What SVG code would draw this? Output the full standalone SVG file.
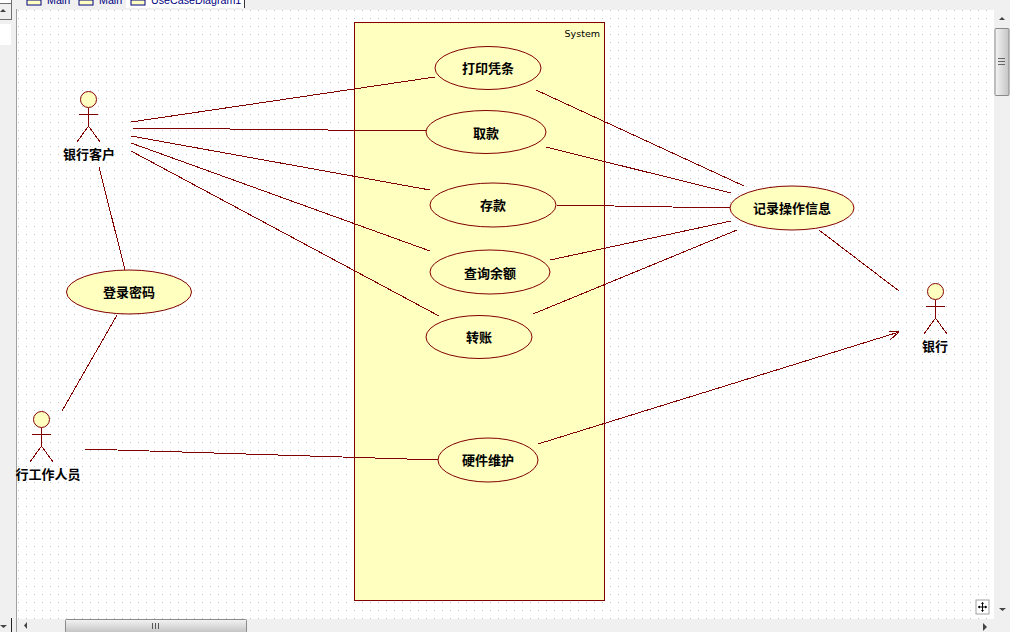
<svg xmlns="http://www.w3.org/2000/svg" width="1010" height="632" viewBox="0 0 1010 632">
<style>
.uc{fill:#ffffc0;stroke:#800000;stroke-width:1}
.ln{fill:none;stroke:#800000;stroke-width:1;shape-rendering:crispEdges}
.ac{fill:none;stroke:#800000;stroke-width:1;shape-rendering:crispEdges}
.lb{font-family:"Noto Sans CJK SC","Liberation Sans",sans-serif;font-size:13px;font-weight:700;fill:#000;text-anchor:middle}
.tab{font-family:"Liberation Sans",sans-serif;font-size:10.700px;fill:#000080}
.th{fill:url(#sb);stroke:#8a8a8a}
.gl{fill:#444}
</style>
<defs>
<pattern id="dots" x="18" y="10" width="8" height="8" patternUnits="userSpaceOnUse"><rect width="1" height="1" fill="#c4c4c4"/></pattern>
<linearGradient id="sb" x1="0" x2="1" y1="0" y2="0"><stop offset="0" stop-color="#f4f4f4"/><stop offset="1" stop-color="#c4c4c4"/></linearGradient>
<linearGradient id="sh" x1="0" x2="0" y1="0" y2="1"><stop offset="0" stop-color="#f4f4f4"/><stop offset="1" stop-color="#c4c4c4"/></linearGradient>
</defs>
<rect width="1010" height="632" fill="#f0f0f0"/>
<rect x="17" y="10" width="977" height="609" fill="#fff"/>
<rect x="17" y="10" width="977" height="609" fill="url(#dots)"/>
<g id="chrome">
<rect x="16" y="9" width="1" height="623" fill="#a0a0a0"/>
<rect x="0" y="0" width="11" height="45" fill="#fff"/>
<rect x="0" y="3" width="11" height="1" fill="#707070"/>
<rect x="0" y="19" width="11" height="1" fill="#707070"/>
<rect x="11" y="0" width="1" height="20" fill="#707070"/>
<rect x="0" y="4" width="11" height="15" fill="#f0f0f0"/>
<rect x="0" y="20" width="11" height="4" fill="#f0f0f0"/>
<polygon class="gl" points="0,12 6,12 3,9"/>
<rect x="11" y="618" width="1" height="14" fill="#222"/>
<polygon class="gl" points="0,625 7,625 3.500,628"/>
<rect x="126" y="0" width="118" height="8" fill="#fff"/>
<rect x="244" y="0" width="1" height="8" fill="#333"/>
<rect x="27" y="0" width="14" height="5" fill="#ffffc0" stroke="#000080"/>
<rect x="79" y="0" width="14" height="5" fill="#ffffc0" stroke="#000080"/>
<rect x="131" y="0" width="14" height="5" fill="#ffffc0" stroke="#000080"/>
<text class="tab" x="47" y="4">Main</text>
<text class="tab" x="99" y="4">Main</text>
<text class="tab" x="151" y="4">UseCaseDiagram1</text>
<rect x="995" y="28.500" width="14" height="67" rx="1" class="th"/>
<g fill="#666"><rect x="998" y="58" width="7" height="1"/><rect x="998" y="61" width="7" height="1"/><rect x="998" y="64" width="7" height="1"/></g>
<polygon class="gl" points="999,20 1005,20 1002,17"/>
<polygon class="gl" points="999,608 1006,608 1002.500,611"/>
<rect x="65.500" y="619.500" width="181" height="13" rx="1" fill="url(#sh)" stroke="#8a8a8a"/>
<g fill="#555"><rect x="152" y="623" width="1" height="6"/><rect x="155" y="623" width="1" height="6"/><rect x="158" y="623" width="1" height="6"/></g>
<polygon class="gl" points="27,622 27,629 24,625.500"/>
<polygon class="gl" points="983,623 983,631 987,627"/>
<rect x="976" y="600" width="13" height="14" fill="#fff" stroke="#a0a0a0"/>
<path d="M982.500,602.500v9M978,607h9" stroke="#000" fill="none"/>
<path d="M981,604l1.500,-2l1.500,2zM981,610l1.500,2l1.500,-2zM980,605.500l-2,1.500l2,1.500zM985,605.500l2,1.500l-2,1.500z" fill="#000"/>
</g>
<g id="system">
<rect x="354.500" y="22.500" width="250" height="578" class="uc"/>
<text x="600" y="37" text-anchor="end" font-family="'DejaVu Sans',sans-serif" font-size="9.500" fill="#000">System</text>
</g>
<g id="connectors">
<path class="ln" d="M131,122L435,77"/>
<path class="ln" d="M131,128L426,131"/>
<path class="ln" d="M131,136L430,190"/>
<path class="ln" d="M131,143L430,251"/>
<path class="ln" d="M131,151L439,316"/>
<path class="ln" d="M99,167L125,270"/>
<path class="ln" d="M117,315L62,411"/>
<path class="ln" d="M85,449L439,460"/>
<path class="ln" d="M536,90L744,186"/>
<path class="ln" d="M546,147L731,193"/>
<path class="ln" d="M556,205L730,208"/>
<path class="ln" d="M550,260L731,221"/>
<path class="ln" d="M533,314L737,230"/>
<path class="ln" d="M819,230L899,291"/>
<path class="ln" d="M538,444L899,332"/>
<path class="ln" d="M889,331L899,332L890,340"/>
</g>
<g id="uc-print"><ellipse class="uc" cx="488" cy="68" rx="53" ry="21.500"/><text class="lb" x="488" y="73">打印凭条</text></g>
<g id="uc-withdraw"><ellipse class="uc" cx="486" cy="132" rx="60" ry="21.500"/><text class="lb" x="486" y="138">取款</text></g>
<g id="uc-deposit"><ellipse class="uc" cx="493" cy="205" rx="63" ry="22"/><text class="lb" x="493" y="210">存款</text></g>
<g id="uc-balance"><ellipse class="uc" cx="490" cy="272" rx="60" ry="22"/><text class="lb" x="490" y="278">查询余额</text></g>
<g id="uc-transfer"><ellipse class="uc" cx="479" cy="337" rx="53" ry="21.500"/><text class="lb" x="479" y="342">转账</text></g>
<g id="uc-hardware"><ellipse class="uc" cx="488" cy="460" rx="50" ry="22"/><text class="lb" x="488" y="465">硬件维护</text></g>
<g id="uc-log"><ellipse class="uc" cx="792" cy="208" rx="62" ry="22"/><text class="lb" x="792" y="213">记录操作信息</text></g>
<g id="uc-login"><ellipse class="uc" cx="129" cy="292" rx="62.500" ry="22"/><text class="lb" x="129" y="297">登录密码</text></g>
<g id="actor-customer">
<circle class="uc" cx="88.500" cy="99.500" r="8"/>
<path class="ac" d="M88.500,108V126M79,114.500H98M88.500,126L77,142M88.500,126L100,142"/>
<text class="lb" x="89" y="159">银行客户</text>
</g>
<g id="actor-staff">
<circle class="uc" cx="41.500" cy="419.500" r="8"/>
<path class="ac" d="M41.500,428V446M32,434.500H51M41.500,446L30,462M41.500,446L53,462"/>
<text class="lb" x="48" y="479">行工作人员</text>
</g>
<g id="actor-bank">
<circle class="uc" cx="935.500" cy="291.500" r="8"/>
<path class="ac" d="M935.500,300V318M926,306.500H945M935.500,318L924,334M935.500,318L947,334"/>
<text class="lb" x="935" y="351">银行</text>
</g>
</svg>
